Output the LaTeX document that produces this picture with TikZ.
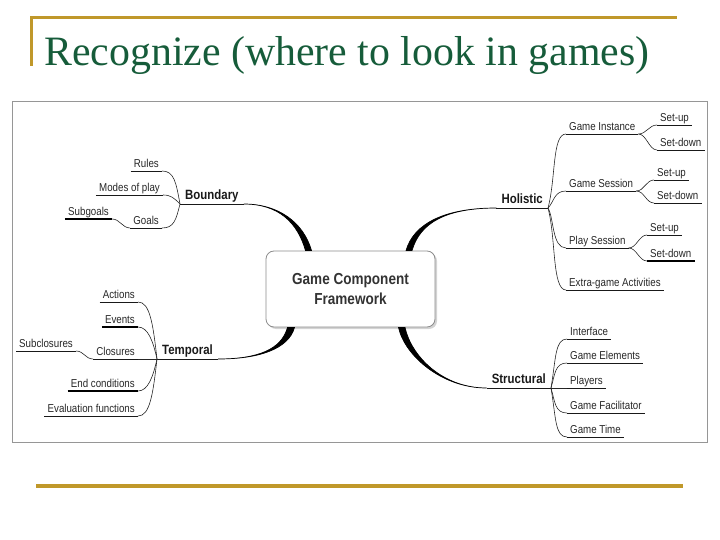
\documentclass[tikz,border=0pt]{standalone}
\usepackage{fontspec}
\usetikzlibrary{shadows}
\newfontfamily\mapfont[FakeStretch=0.85]{Liberation Sans}
\newfontfamily\titlefont{Liberation Serif}
\definecolor{titlegreen}{RGB}{22,92,58}
\definecolor{rulegold}{RGB}{192,152,42}
\definecolor{framegray}{RGB}{150,150,150}

\begin{document}
\begin{tikzpicture}[x=1bp,y=-1bp,
  leaf/.style={font=\mapfont\fontsize{11.5}{13}\selectfont,text=black!85,inner xsep=3bp,inner ysep=0.8bp,text height=8.5bp,text depth=2.5bp},
  lleaf/.style={leaf,anchor=south east},
  rleaf/.style={leaf,anchor=south west},
  topic/.style={font=\mapfont\bfseries\fontsize{13.5}{15}\selectfont,text=black!90,inner xsep=5bp,inner ysep=1bp,text height=10bp,text depth=3bp},
  centre/.style={draw=black!45,line width=0.8bp,fill=white,rounded corners=8bp,minimum width=169bp,minimum height=76bp,align=center,font=\mapfont\bfseries\fontsize{16}{21}\selectfont,text=black!80,drop shadow={shadow xshift=2bp,shadow yshift=-2bp,opacity=0.35}},
  ln/.style={line width=0.6bp,black!85},
  uline/.style={line width=0.8bp,black!90},
  thick uline/.style={line width=1.8bp,black},
  trunk/.style={line width=0.7bp,black,fill=black}]
\useasboundingbox (0,0) rectangle (720,540);

\node[anchor=base west,font=\titlefont\fontsize{42}{46}\selectfont,text=titlegreen,inner sep=0pt] (ttl) at (44,66) {Recognize (where to look in games)};
\draw[rulegold,line width=3bp] (31,66) -- (31,18) -- (677,18);
\draw[rulegold,line width=3.5bp] (36,486) -- (683,486);
\draw[framegray,line width=1bp] (12,102) rectangle (707,442);

\node[centre] (ctr) at (350.5,289) {Game Component\\Framework};

\node[topic,anchor=south west] (bnd) at (180,204) {Boundary};
\node[topic,anchor=south east] (hol) at (548,208) {Holistic};
\node[topic,anchor=south west] (tmp) at (157,359) {Temporal};
\node[topic,anchor=south east] (str) at (551,388) {Structural};

\node[lleaf] (rul) at (162,171) {Rules};
\node[lleaf] (mop) at (163,195) {Modes of play};
\node[lleaf] (gls) at (162,228) {Goals};
\node[lleaf] (sgl) at (112,219) {Subgoals};

\node[rleaf] (gin) at (566,134) {Game Instance};
\node[rleaf] (gin1) at (657,125) {Set-up};
\node[rleaf] (gin2) at (657,150) {Set-down};
\node[rleaf] (gse) at (566,191) {Game Session};
\node[rleaf] (gse1) at (654,180) {Set-up};
\node[rleaf] (gse2) at (654,203) {Set-down};
\node[rleaf] (pse) at (566,248) {Play Session};
\node[rleaf] (pse1) at (647,235) {Set-up};
\node[rleaf] (pse2) at (647,261) {Set-down};
\node[rleaf] (xga) at (566,290) {Extra-game Activities};

\node[lleaf] (act) at (138,302) {Actions};
\node[lleaf] (evt) at (138,327) {Events};
\node[lleaf] (cls) at (138,359) {Closures};
\node[lleaf] (scl) at (76,351) {Subclosures};
\node[lleaf] (ecd) at (138,391) {End conditions};
\node[lleaf] (evf) at (138,416) {Evaluation functions};

\node[rleaf] (ifc) at (567,339) {Interface};
\node[rleaf] (gel) at (567,363) {Game Elements};
\node[rleaf] (ply) at (567,388) {Players};
\node[rleaf] (gfc) at (567,413) {Game Facilitator};
\node[rleaf] (gtm) at (567,437) {Game Time};

\foreach \n in {bnd,hol,tmp,str,rul,mop,gls,gin,gin1,gin2,gse,gse1,gse2,pse,pse1,xga,act,cls,scl,evf,ifc,gel,ply,gfc,gtm}
  \draw[uline] (\n.south west) -- (\n.south east);
\foreach \n in {sgl,evt,ecd,pse2}
  \draw[thick uline] (\n.south west) -- (\n.south east);

\draw[trunk] (bnd.south east) .. controls +(35,0) and +(-8,-28) .. ([xshift=-45bp]ctr.north) -- ([xshift=-39bp]ctr.north) .. controls +(-8,-28) and +(35,0) .. (bnd.south east) -- cycle;
\draw[trunk] (hol.south west) .. controls +(-50,0) and +(8,-28) .. ([xshift=55.5bp]ctr.north) -- ([xshift=61.5bp]ctr.north) .. controls +(8,-28) and +(-50,0) .. (hol.south west) -- cycle;
\draw[trunk] (tmp.south east) .. controls +(40,0) and +(-6,22) .. ([xshift=-63bp]ctr.south) -- ([xshift=-56bp]ctr.south) .. controls +(-6,22) and +(40,0) .. (tmp.south east) -- cycle;
\draw[trunk] (str.south west) .. controls +(-45,0) and +(6,28) .. ([xshift=48bp]ctr.south) -- ([xshift=54.5bp]ctr.south) .. controls +(6,28) and +(-45,0) .. (str.south west) -- cycle;

\draw[ln] (bnd.south west) .. controls +(-4,-22) and +(12,0) .. (rul.south east);
\draw[ln] (bnd.south west) .. controls +(-6,-6) and +(8,0) .. (mop.south east);
\draw[ln] (bnd.south west) .. controls +(-4,16) and +(12,0) .. (gls.south east);
\draw[ln] (gls.south west) .. controls +(-8,0) and +(8,0) .. (sgl.south east);

\draw[ln] (hol.south east) .. controls +(8,-30) and +(-14,0) .. (gin.south west);
\draw[ln] (hol.south east) .. controls +(6,-6) and +(-12,0) .. (gse.south west);
\draw[ln] (hol.south east) .. controls +(6,10) and +(-14,0) .. (pse.south west);
\draw[ln] (hol.south east) .. controls +(8,30) and +(-14,0) .. (xga.south west);
\draw[ln] (gin.south east) .. controls +(8,0) and +(-8,0) .. (gin1.south west);
\draw[ln] (gin.south east) .. controls +(8,0) and +(-8,0) .. (gin2.south west);
\draw[ln] (gse.south east) .. controls +(8,0) and +(-8,0) .. (gse1.south west);
\draw[ln] (gse.south east) .. controls +(8,0) and +(-8,0) .. (gse2.south west);
\draw[ln] (pse.south east) .. controls +(8,0) and +(-8,0) .. (pse1.south west);
\draw[ln] (pse.south east) .. controls +(8,0) and +(-8,0) .. (pse2.south west);

\draw[ln] (tmp.south west) .. controls +(-4,-35) and +(12,0) .. (act.south east);
\draw[ln] (tmp.south west) .. controls +(-4,-18) and +(10,0) .. (evt.south east);
\draw[ln] (tmp.south west) -- (cls.south east);
\draw[ln] (cls.south west) .. controls +(-8,0) and +(8,0) .. (scl.south east);
\draw[ln] (tmp.south west) .. controls +(-4,18) and +(10,0) .. (ecd.south east);
\draw[ln] (tmp.south west) .. controls +(-4,35) and +(12,0) .. (evf.south east);

\draw[ln] (str.south east) .. controls +(5,-30) and +(-12,0) .. (ifc.south west);
\draw[ln] (str.south east) .. controls +(4,-14) and +(-12,0) .. (gel.south west);
\draw[ln] (str.south east) -- (ply.south west);
\draw[ln] (str.south east) .. controls +(4,14) and +(-12,0) .. (gfc.south west);
\draw[ln] (str.south east) .. controls +(5,30) and +(-12,0) .. (gtm.south west);
\end{tikzpicture}
\end{document}
